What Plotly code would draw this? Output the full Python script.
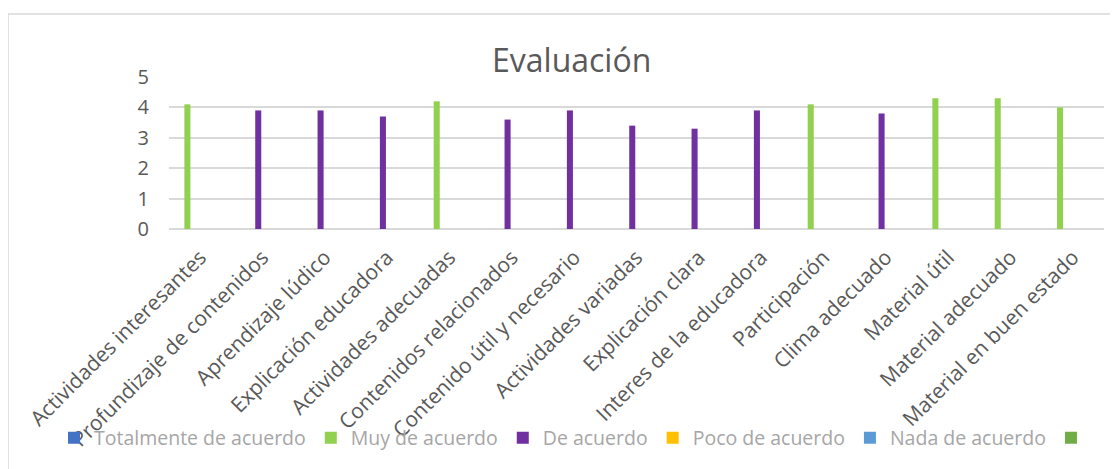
import plotly.graph_objects as go

categories = [
    "Actividades interesantes", "Profundizaje de contenidos", "Aprendizaje lúdico",
    "Explicación educadora", "Actividades adecuadas", "Contenidos relacionados",
    "Contenido útil y necesario", "Actividades variadas", "Explicación clara",
    "Interes de la educadora", "Participación", "Clima adecuado",
    "Material útil", "Material adecuado", "Material en buen estado",
]
scores = [4.1, 3.9, 3.9, 3.7, 4.2, 3.6, 3.9, 3.4, 3.3, 3.9, 4.1, 3.8, 4.3, 4.3, 4.0]
ratings = [
    "Muy de acuerdo", "De acuerdo", "De acuerdo", "De acuerdo", "Muy de acuerdo",
    "De acuerdo", "De acuerdo", "De acuerdo", "De acuerdo", "De acuerdo",
    "Muy de acuerdo", "De acuerdo", "Muy de acuerdo", "Muy de acuerdo", "Muy de acuerdo",
]
series_names = ["Totalmente de acuerdo", "Muy de acuerdo", "De acuerdo",
                "Poco de acuerdo", "Nada de acuerdo", ""]
series_colors = ["#4472C4", "#92D050", "#7030A0", "#FFC000", "#5B9BD5", "#70AD47"]

FONT = "Open Sans"
# page body has an 8px margin; work in screen coords and subtract it
OFF = 8
W, H = 1118 - OFF, 469 - OFF
L, R, T, B = 169 - OFF, 1104 - OFF, 77 - OFF, 229 - OFF
pw, ph = R - L, B - T

def px(x):
    return (x - OFF - L) / pw

def py(y):
    return (B - (y - OFF)) / ph

fig = go.Figure()
for name, color in zip(series_names, series_colors):
    ys = [s if r == name else None for s, r in zip(scores, ratings)]
    fig.add_trace(go.Bar(x=categories, y=ys, name=name, marker_color=color,
                         marker_line_width=0, showlegend=True))

fig.update_layout(
    width=W, height=H,
    margin=dict(l=L, r=W - R, t=T, b=H - B, pad=0, autoexpand=False),
    paper_bgcolor="white", plot_bgcolor="white",
    barmode="group", bargap=0.18, bargroupgap=0.29,
    font=dict(family=FONT, color="#595959", size=18),
    showlegend=True,
    legend=dict(orientation="h", x=px(54), xanchor="left",
                y=py(438), yanchor="middle",
                bgcolor="rgba(0,0,0,0)", font=dict(size=19.5, color="#A6A6A6"),
                itemwidth=30, tracegroupgap=0),
    xaxis=dict(tickangle=-45, showgrid=False, showline=False, ticks="",
               automargin=False, ticklabelstandoff=11, ticklabelshift=0,
               tickfont=dict(size=21, color="#595959")),
    yaxis=dict(range=[0, 5], dtick=1, showgrid=True, gridcolor="#D9D9D9", gridwidth=1.5,
               zeroline=True, zerolinecolor="#D9D9D9", zerolinewidth=1.5,
               showline=False, ticks="", automargin=False, ticklabelstandoff=19,
               tickfont=dict(size=20, color="#595959")),
    annotations=[dict(text="Evaluación", xref="paper", yref="paper",
                      x=px(571), y=py(60), xanchor="center", yanchor="middle",
                      showarrow=False, font=dict(size=32, color="#595959", family=FONT))],
    shapes=[dict(type="rect", xref="paper", yref="paper",
                 x0=px(8), x1=px(1140), y0=py(14), y1=py(490),
                 line=dict(color="#D9D9D9", width=1.5), layer="below")],
)

fig.write_html("out.html")
